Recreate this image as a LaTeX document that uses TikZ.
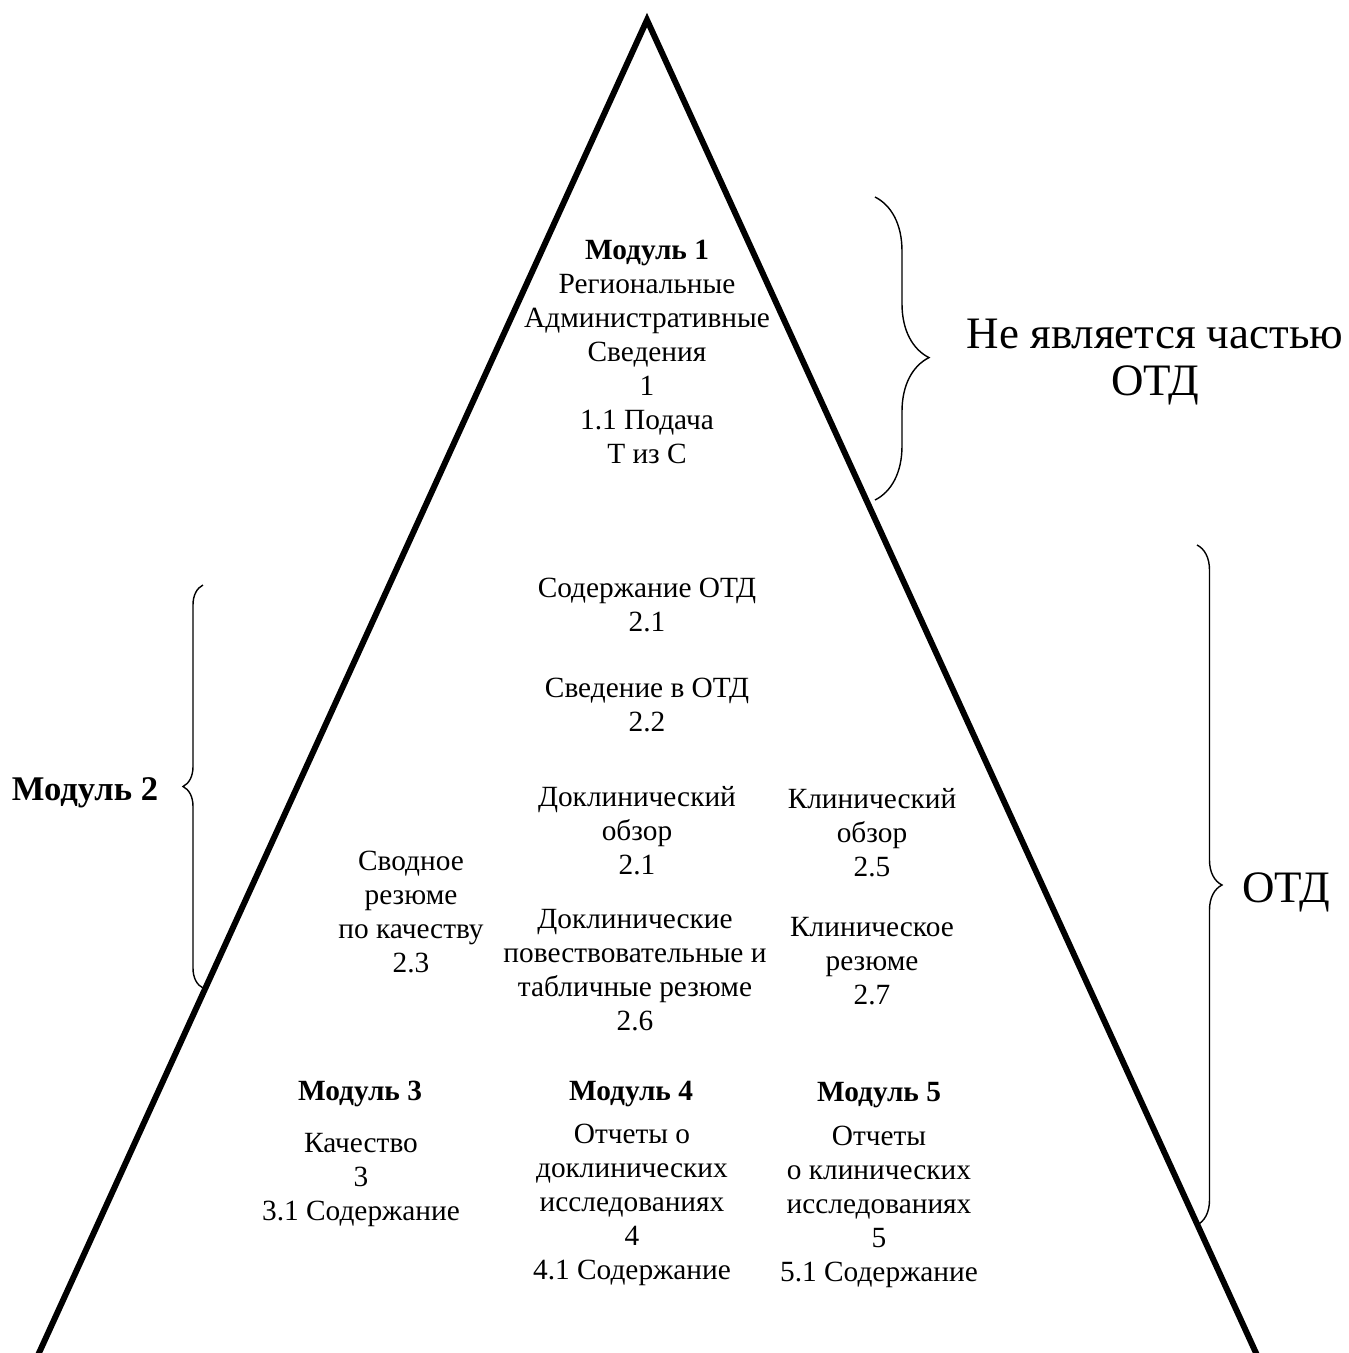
\documentclass[tikz,border=0pt]{standalone}
\usepackage{fontspec}
\setmainfont{Liberation Serif}
\usetikzlibrary{decorations.pathreplacing}

\begin{document}
\begin{tikzpicture}[x=0.02cm,y=-0.02cm,
    txt/.style={align=center,inner sep=0pt,font=\fontsize{16.7}{19.3}\selectfont},
    modtitle/.style={txt,font=\fontsize{16.7}{19.3}\selectfont\bfseries},
    bigtxt/.style={align=center,inner sep=0pt,font=\fontsize{25.6}{27}\selectfont},
    curly/.style={decorate,decoration={brace,amplitude=#1},line width=0.8pt}]
    \useasboundingbox (0,0) rectangle (1349,1353);
    % pyramid
    \draw[line width=3.4pt,line join=miter] (33.5,1365)--(647,20)--(1261.5,1365);

    % module 1
    \node[txt] (mod1) at (647,352) {\textbf{Модуль 1}\\Региональные\\Административные\\Сведения\\1\\1.1 Подача\\Т из С};

    % module 2
    \node[txt] (toc) at (647,605) {Содержание ОТД\\2.1};
    \node[txt] (intro) at (647,705) {Сведение в ОТД\\2.2};
    \node[txt] (nonclin) at (637,831) {Доклинический\\обзор\\2.1};
    \node[txt] (clin) at (872,833) {Клинический\\обзор\\2.5};
    \node[txt] (quality) at (411,912) {Сводное\\резюме\\по качеству\\2.3};
    \node[txt] (nonclinsum) at (635,970) {Доклинические\\повествовательные и\\табличные резюме\\2.6};
    \node[txt] (clinsum) at (872,961) {Клиническое\\резюме\\2.7};

    % modules 3-5
    \node[modtitle] (mod3) at (360,1094) {Модуль 3};
    \node[txt] (mod3txt) at (361,1180) {Качество\\3\\3.1 Содержание};
    \node[modtitle] (mod4) at (631,1094) {Модуль 4};
    \node[txt] (mod4txt) at (632,1205) {Отчеты о\\доклинических\\исследованиях\\4\\4.1 Содержание};
    \node[modtitle] (mod5) at (879,1095) {Модуль 5};
    \node[txt] (mod5txt) at (879,1207) {Отчеты\\о клинических\\исследованиях\\5\\5.1 Содержание};

    % braces
    \draw[curly=1.08cm,decoration={aspect=0.53}] (875,197)--(875,500);
    \node[bigtxt] (notctd) at (1155,362) {Не является частью\\ОТД};
    \draw[curly=0.5cm] (1197,545)--(1197,1225);
    \node[bigtxt] (ctd) at (1286,892) {ОТД};
    \draw[curly=0.4cm] (203,988)--(203,585);
    \node[txt,font=\fontsize{19.7}{22}\selectfont\bfseries] (mod2) at (85,793) {Модуль 2};
\end{tikzpicture}
\end{document}
